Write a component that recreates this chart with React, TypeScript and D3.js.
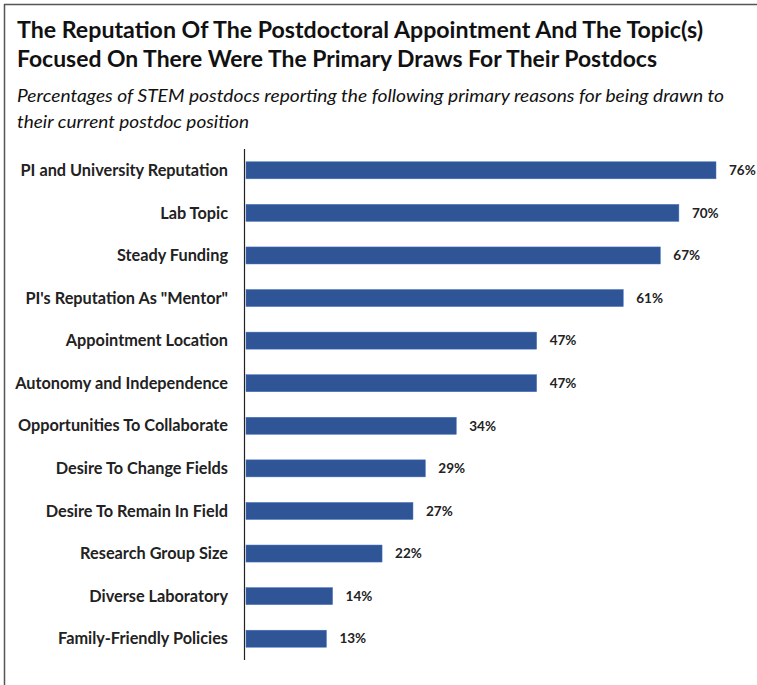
import React from "react";
import * as d3 from "d3";

const categories = [
  "PI and University Reputation",
  "Lab Topic",
  "Steady Funding",
  "PI's Reputation As \"Mentor\"",
  "Appointment Location",
  "Autonomy and Independence",
  "Opportunities To Collaborate",
  "Desire To Change Fields",
  "Desire To Remain In Field",
  "Research Group Size",
  "Diverse Laboratory",
  "Family-Friendly Policies",
];
const values = [76, 70, 67, 61, 47, 47, 34, 29, 27, 22, 14, 13];
const titleLines = [
  "The Reputation Of The Postdoctoral Appointment And The Topic(s)",
  "Focused On There Were The Primary Draws For Their Postdocs",
];
const subtitleLines = [
  "Percentages of STEM postdocs reporting the following primary reasons for being drawn to",
  "their current postdoc position",
];

const W = 757;
const H = 685;
const font = "Lato, 'Open Sans', sans-serif";

export default function App() {
  const x = d3.scaleLinear().domain([0, 76]).range([246, 716]);
  const y = d3.scaleBand().domain(categories).range([149, 660]).paddingInner(0.6).paddingOuter(0.3);
  const titleWidths = [686, 640];
  const subWidths = [707, 232];
  return (
    <svg width={W} height={H} style={{ position: "absolute", left: 0, top: 0 }}>
      <rect x={0} y={0} width={W} height={H} fill="#fff" />
      <line x1={4.5} y1={4} x2={4.5} y2={H} stroke="#555" strokeWidth={1.5} />
      <line x1={4} y1={4.5} x2={W} y2={4.5} stroke="#555" strokeWidth={1.5} />
      {titleLines.map((t, i) => (
        <text key={t} x={17} y={38 + i * 29} fontFamily={font} fontWeight={700} fontSize={22.5} fill="#111"
          textLength={titleWidths[i]} lengthAdjust="spacingAndGlyphs">
          {t}
        </text>
      ))}
      {subtitleLines.map((t, i) => (
        <text key={t} x={17} y={102 + i * 26} fontFamily={font} fontStyle="italic" fontSize={18} fill="#111"
          textLength={subWidths[i]} lengthAdjust="spacingAndGlyphs">
          {t}
        </text>
      ))}
      {categories.map((c, i) => {
        const yy = y(c)!;
        const bw = y.bandwidth();
        return (
          <g key={c}>
            <rect x={x(0)} y={yy} width={x(values[i]) - x(0)} height={bw} fill="#2F5597" stroke="#4472C4" strokeWidth={0.5} />
            <text x={228} y={yy + bw / 2} dy="0.35em" textAnchor="end" fontFamily={font} fontWeight={700} fontSize={16.3} fill="#222">
              {c}
            </text>
            <text x={x(values[i]) + 13} y={yy + bw / 2} dy="0.35em" fontFamily={font} fontWeight={700} fontSize={13.5} fill="#222">
              {values[i]}%
            </text>
          </g>
        );
      })}
      <line x1={244.5} y1={149} x2={244.5} y2={660} stroke="#222" strokeWidth={1.2} />
    </svg>
  );
}
